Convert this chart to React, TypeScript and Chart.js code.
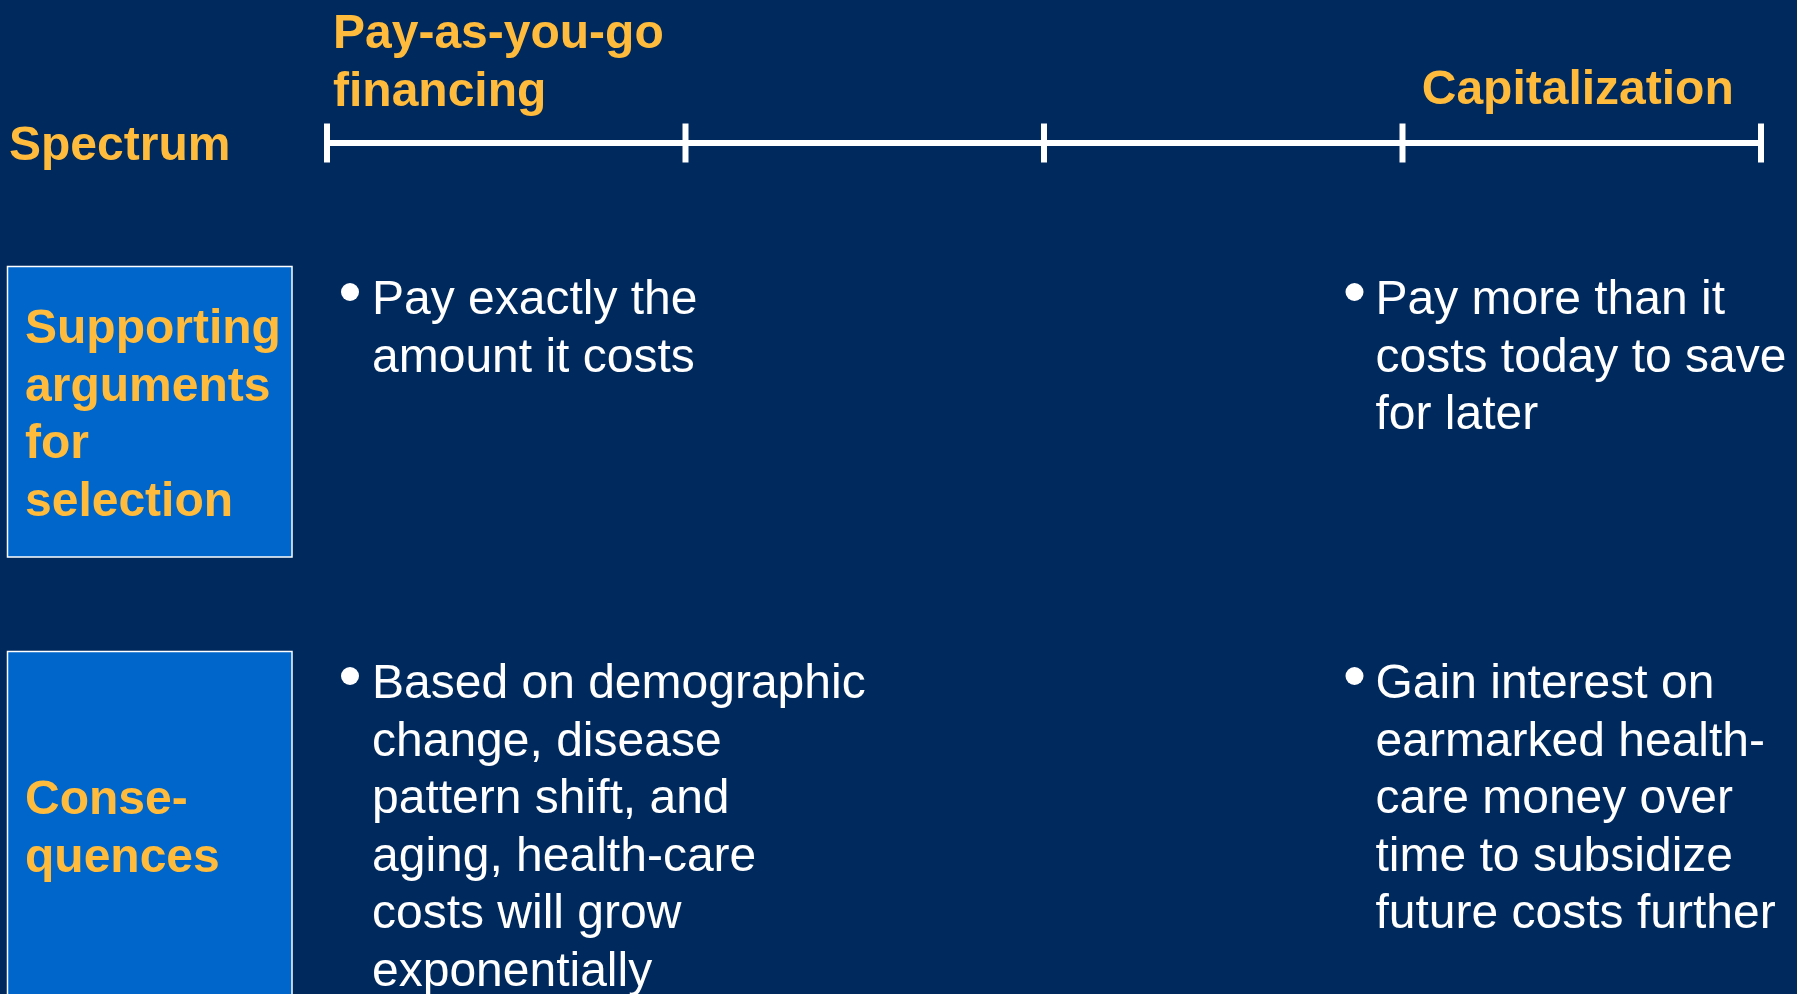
import React, { useEffect, useRef } from "react";
import { Chart, registerables } from "chart.js";

Chart.register(...registerables);

// ---- Data ----
const SPECTRUM_STOPS = [0, 1, 2, 3, 4];
const LEFT_END_LABEL = ["Pay-as-you-go", "financing"];
const RIGHT_END_LABEL = ["Capitalization"];
const SPECTRUM_LABEL = "Spectrum";
const ROW1_LABEL = ["Supporting", "arguments", "for", "selection"];
const ROW2_LABEL = ["Conse-", "quences"];
const ROW1_LEFT = ["Pay exactly the", "amount it costs"];
const ROW1_RIGHT = ["Pay more than it", "costs today to save", "for later"];
const ROW2_LEFT = [
  "Based on demographic",
  "change, disease",
  "pattern shift, and",
  "aging, health-care",
  "costs will grow",
  "exponentially",
];
const ROW2_RIGHT = [
  "Gain interest on",
  "earmarked health-",
  "care money over",
  "time to subsidize",
  "future costs further",
];

// ---- Style / layout ----
const W = 1797;
const H = 994;
const BG = "#00295E";
const BOX = "#0066CB";
const GOLD = "#FFBB3B";
const WHITE = "#FFFFFF";
const FONT = '"Liberation Sans", Arial, Helvetica, sans-serif';
const SIZE = 48;
const LH = 57.6;
const SPECTRUM_Y = 143;

export default function App() {
  const ref = useRef<HTMLCanvasElement | null>(null);

  useEffect(() => {
    document.body.style.margin = "0";
    document.body.style.background = BG;
    const canvas = ref.current;
    if (!canvas) return;

    const drawLines = (
      ctx: CanvasRenderingContext2D,
      lines: string[],
      x: number,
      y0: number,
      align: CanvasTextAlign = "left"
    ) => {
      ctx.textAlign = align;
      lines.forEach((t, i) => ctx.fillText(t, x, y0 + i * LH));
    };

    const bullet = (ctx: CanvasRenderingContext2D, x: number, baseline: number) => {
      ctx.beginPath();
      ctx.arc(x, baseline - 22, 9, 0, Math.PI * 2);
      ctx.fillStyle = WHITE;
      ctx.fill();
    };

    const bgPlugin = {
      id: "bg",
      beforeDraw(chart: any) {
        const ctx = chart.ctx as CanvasRenderingContext2D;
        ctx.save();
        ctx.fillStyle = BG;
        ctx.fillRect(0, 0, chart.width, chart.height);
        ctx.fillStyle = BOX;
        ctx.strokeStyle = WHITE;
        ctx.lineWidth = 1.5;
        ctx.fillRect(7.5, 266.5, 284.5, 290.5);
        ctx.strokeRect(7.5, 266.5, 284.5, 290.5);
        ctx.fillRect(7.5, 651.5, 284.5, 400);
        ctx.strokeRect(7.5, 651.5, 284.5, 400);
        ctx.restore();
      },
    };

    const textPlugin = {
      id: "texts",
      afterDatasetsDraw(chart: any) {
        const ctx = chart.ctx as CanvasRenderingContext2D;
        const xs = chart.scales.x;
        const p0 = xs.getPixelForValue(SPECTRUM_STOPS[0]);
        const p3 = xs.getPixelForValue(SPECTRUM_STOPS[3]);
        const p4 = xs.getPixelForValue(SPECTRUM_STOPS[4]);
        ctx.save();
        ctx.textBaseline = "alphabetic";
        ctx.fillStyle = GOLD;
        ctx.font = `bold ${SIZE}px ${FONT}`;
        drawLines(ctx, LEFT_END_LABEL, p0 + 6, 48);
        drawLines(ctx, RIGHT_END_LABEL, (p3 + p4) / 2 - 4, 104, "center");
        drawLines(ctx, [SPECTRUM_LABEL], 9, 160);
        drawLines(ctx, ROW1_LABEL, 25, 343);
        drawLines(ctx, ROW2_LABEL, 25, 814);
        ctx.font = `${SIZE}px ${FONT}`;
        const lb = p0 + 23;
        const lt = p0 + 45;
        const rb = p3 - 48;
        const rt = p3 - 27;
        const y1 = 314;
        const y2 = 698;
        bullet(ctx, lb, y1);
        bullet(ctx, rb, y1);
        bullet(ctx, lb, y2);
        bullet(ctx, rb, y2);
        ctx.fillStyle = WHITE;
        drawLines(ctx, ROW1_LEFT, lt, y1);
        drawLines(ctx, ROW1_RIGHT, rt, y1);
        drawLines(ctx, ROW2_LEFT, lt, y2);
        drawLines(ctx, ROW2_RIGHT, rt, y2);
        ctx.restore();
      },
    };

    const chart = new Chart(canvas, {
      type: "line",
      data: {
        datasets: [
          {
            label: "Spectrum",
            data: SPECTRUM_STOPS.map((v) => ({ x: v, y: SPECTRUM_Y })),
            borderColor: WHITE,
            borderWidth: 6,
            pointStyle: "line",
            pointRotation: 90,
            pointRadius: 19.5,
            pointHoverRadius: 19.5,
            pointBorderColor: WHITE,
            pointBorderWidth: 6,
            pointHoverBorderWidth: 6,
            clip: false,
            fill: false,
          } as any,
        ],
      },
      options: {
        animation: false,
        responsive: false,
        events: [],
        layout: { autoPadding: false, padding: { left: 327, right: 36, top: 0, bottom: 0 } },
        plugins: { legend: { display: false }, tooltip: { enabled: false } },
        scales: {
          x: { type: "linear", min: 0, max: 4, display: false },
          y: { type: "linear", min: 0, max: H, reverse: true, display: false },
        },
      },
      plugins: [bgPlugin, textPlugin],
    });
    return () => chart.destroy();
  }, []);

  return (
    <div style={{ width: W, height: H, background: BG }}>
      <canvas ref={ref} width={W} height={H} style={{ display: "block", width: W, height: H }} />
    </div>
  );
}
